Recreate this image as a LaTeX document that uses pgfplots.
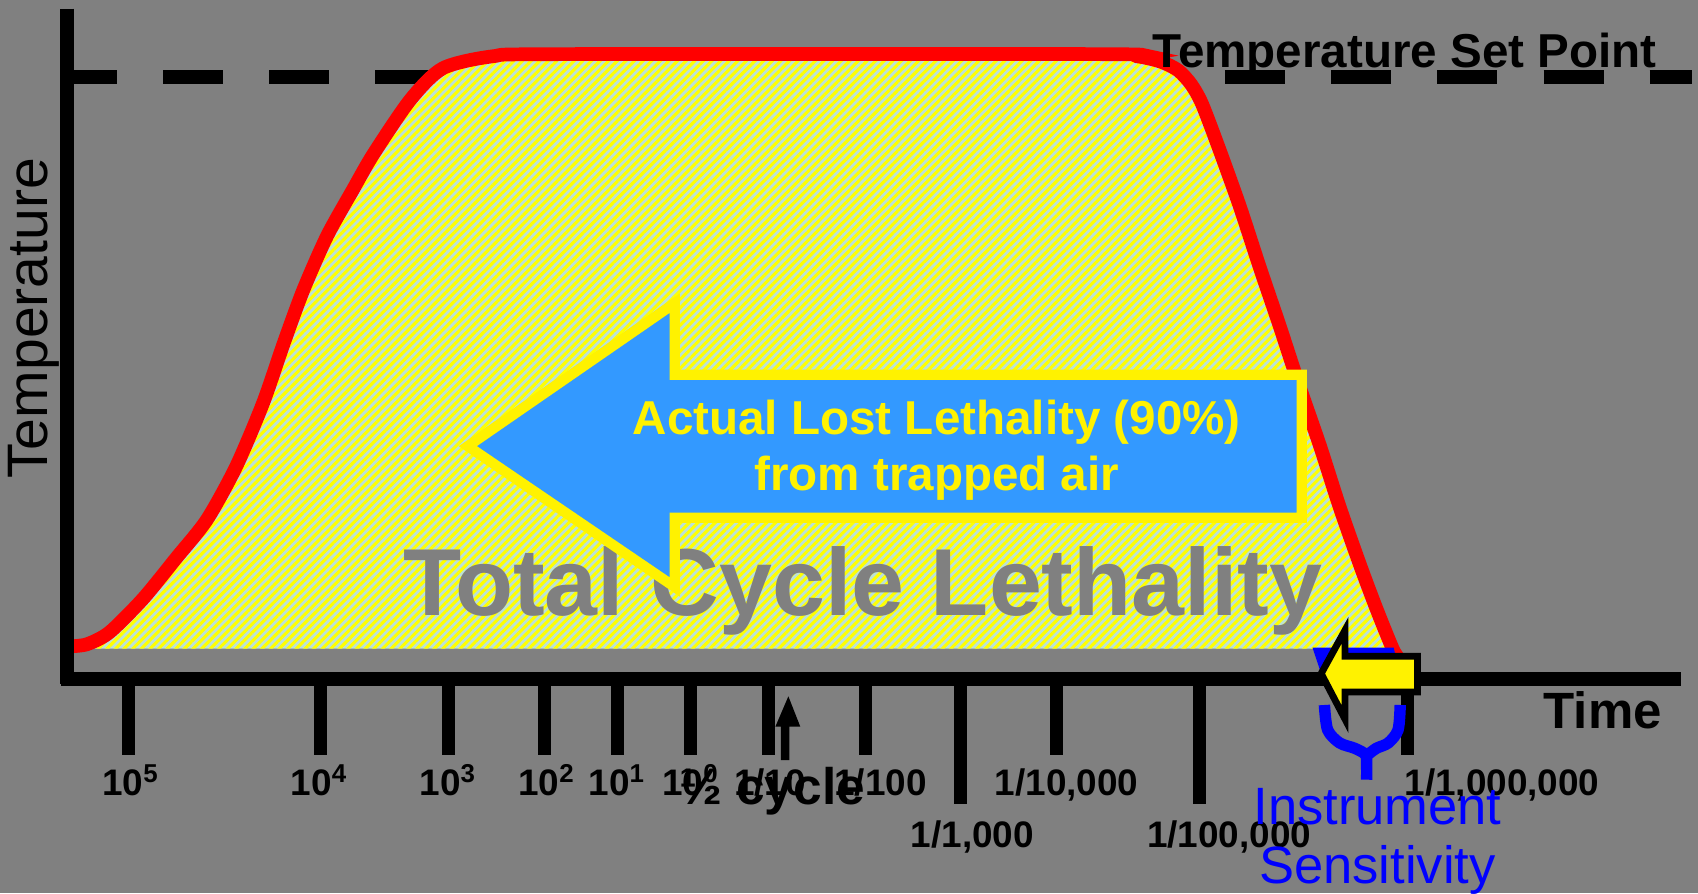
\documentclass[border=0pt]{standalone}
\usepackage{fontspec}
\setmainfont{Liberation Sans}
\usepackage{pgfplots}
\pgfplotsset{compat=1.18}
\usetikzlibrary{patterns.meta}

\definecolor{bg}{RGB}{128,128,128}
\definecolor{hatchbase}{RGB}{188,226,214}
\definecolor{arrowblue}{RGB}{51,153,255}

\newcommand{\fs}[1]{\fontsize{#1}{1.2\dimexpr#1pt\relax}\selectfont}

\begin{document}
\begin{tikzpicture}
\begin{axis}[
    scale only axis,
    width=15.68cm, height=8.25cm,
    xmin=0, xmax=1568, ymin=0, ymax=825,
    y dir=reverse,
    hide axis,
    clip=false,
    unbounded coords=jump,
]
% background
\addplot[fill=bg, draw=none] coordinates {(0,0) (1568,0) (1568,825) (0,825)} -- cycle;

% set point line
\addplot[black, line width=3.7pt, dash pattern=on 15.8pt off 12.1pt, dash phase=2.7pt]
    coordinates {(62,71) (1562,71)};

% total lethality area (hatched)
\addplot[draw=none, fill=hatchbase,
    postaction={pattern={Lines[angle=45,distance=1.6pt,line width=0.8pt]}, pattern color=yellow}]
    coordinates {
    (62,599) (80,597) (101,586) (132,555) (163,517) (191,482) (218,433)
    (243,374) (262,319) (280,270) (302,220) (326,177) (345,144) (379,94)
    (409,65) (455,54) (517,52) (1016,52) (1050,54) (1072,59) (1088,67)
    (1100,80) (1110,98) (1126,140) (1145,193) (1163,248) (1182,304) (1200,359)
    (1219,414) (1237,470) (1256,524) (1271,564) (1284,599)
    } -- cycle;

% "Total Cycle Lethality"
\node[text=bg, font=\bfseries\fs{25}, anchor=base] at (axis cs:797,568) {Total Cycle Lethality};

% red temperature curve
\addplot[red, line width=3.6pt, smooth, tension=0.45] coordinates {
    (62,597) (80,595) (101,584) (132,553) (163,515) (191,480) (218,431)
    (243,372) (262,317) (280,268) (302,218) (326,175) (345,142) (379,92)
    (409,63) (455,52) (517,50) (1016,50) (1050,52) (1072,57) (1088,65)
    (1100,78) (1110,96) (1126,138) (1145,191) (1163,246) (1182,302) (1200,357)
    (1219,412) (1237,468) (1256,522) (1271,562) (1286,599) (1291,607)
};

% big blue arrow
\addplot[fill=arrowblue, draw=yellow, line width=2.7pt, line join=miter] coordinates {
    (432,412) (623,280) (623,346) (1202,346) (1202,478) (623,478) (623,542)
} -- cycle;
\node[text=yellow, font=\bfseries\fs{12.5}, anchor=base] at (axis cs:865,401) {Actual Lost Lethality (90\%)};
\node[text=yellow, font=\bfseries\fs{12.5}, anchor=base] at (axis cs:865,453) {from trapped air};

% axes
\addplot[black, line width=3.6pt] coordinates {(62,8) (62,632)};
\addplot[black, line width=3.6pt] coordinates {(56,627) (1552,627)};

% tick marks
\addplot[black, line width=3.4pt] coordinates {
    (119,627) (119,697) (nan,nan)
    (296,627) (296,697) (nan,nan)
    (414,627) (414,697) (nan,nan)
    (503,627) (503,697) (nan,nan)
    (570,627) (570,697) (nan,nan)
    (638,627) (638,697) (nan,nan)
    (710,627) (710,697) (nan,nan)
    (799,627) (799,697) (nan,nan)
    (887,627) (887,742) (nan,nan)
    (976,627) (976,697) (nan,nan)
    (1108,627) (1108,742) (nan,nan)
    (1300,627) (1300,697)
};

% blue wedge and small yellow arrow
\addplot[fill=blue, draw=none] coordinates {(1212,598) (1287,598) (1290,612) (1222,628)} -- cycle;
\addplot[fill=yellow, draw=black, line width=1.8pt, line join=miter] coordinates {
    (1220,622) (1242,582) (1242,606) (1309,606) (1309,639) (1242,639) (1242,664)
} -- cycle;

% brace
\addplot[blue, line width=3pt, smooth] coordinates {
    (1223,651) (1226,674) (1237,686) (1251,691) (1261,697) (1262,708) (1262,720)
};
\addplot[blue, line width=3pt, smooth] coordinates {
    (1293,651) (1291,674) (1282,686) (1271,691) (1263,697)
};

% half cycle arrow
\addplot[fill=black, draw=none] coordinates {
    (721,702) (729,702) (729,671) (739,671) (728,643) (716,671) (721,671)
} -- cycle;

% tick labels
\begin{scope}[every node/.style={font=\bfseries\fs{9.7}, anchor=base, inner sep=0pt}]
\node at (axis cs:121,735) {10\textsuperscript{5}};
\node at (axis cs:295,735) {10\textsuperscript{4}};
\node at (axis cs:414,735) {10\textsuperscript{3}};
\node at (axis cs:505,735) {10\textsuperscript{2}};
\node at (axis cs:570,735) {10\textsuperscript{1}};
\node at (axis cs:638,735) {10\textsuperscript{0}};
\node at (axis cs:711,735) {1/10};
\node at (axis cs:813,735) {1/100};
\node at (axis cs:985,735) {1/10,000};
\node at (axis cs:1387,735) {1/1,000,000};
\node at (axis cs:898,783) {1/1,000};
\node at (axis cs:1135,783) {1/100,000};
\end{scope}

\node[font=\bfseries\fs{13.5}, anchor=base] at (axis cs:713,743) {½ cycle};
\node[font=\bfseries\fs{13.4}, anchor=base] at (axis cs:1480,673) {Time};
\node[font=\bfseries\fs{12.5}, anchor=base] at (axis cs:1297,62) {Temperature Set Point};
\node[font=\fs{15}, rotate=90, inner sep=0pt] at (axis cs:31,294) {Temperature};
\node[text=blue, font=\fs{13.8}, anchor=base] at (axis cs:1272,761) {Instrument};
\node[text=blue, font=\fs{13.8}, anchor=base] at (axis cs:1272,816) {Sensitivity};
\end{axis}
\pgfresetboundingbox
\useasboundingbox (current axis.south west) rectangle (current axis.north east);
\end{tikzpicture}
\end{document}
